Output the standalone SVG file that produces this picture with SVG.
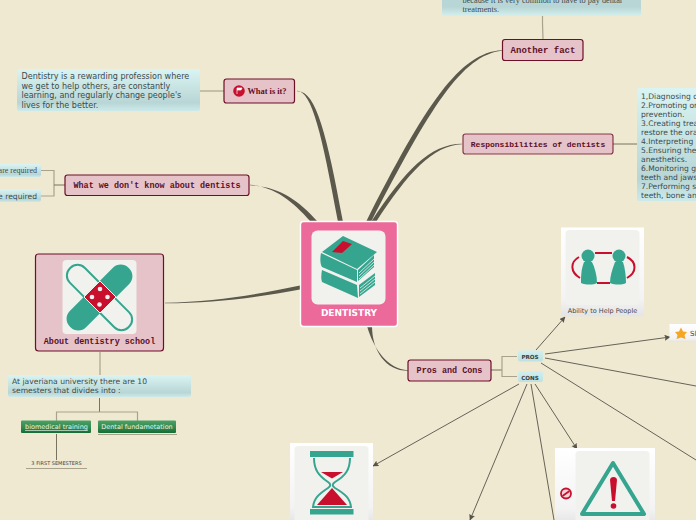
<svg xmlns="http://www.w3.org/2000/svg" width="696" height="520" viewBox="0 0 696 520">
<defs>
<linearGradient id="blue" x1="0" y1="0" x2="0" y2="1"><stop offset="0" stop-color="#d9f4f2"/><stop offset="0.8" stop-color="#b9d6d6"/><stop offset="1" stop-color="#cdeaea"/></linearGradient>
<linearGradient id="blue2" x1="0" y1="0" x2="0" y2="1"><stop offset="0" stop-color="#b8d6d6"/><stop offset="0.75" stop-color="#b9d6d6"/><stop offset="1" stop-color="#d3f0ee"/></linearGradient>
<linearGradient id="blue3" x1="0" y1="0" x2="0" y2="1"><stop offset="0" stop-color="#d2efee"/><stop offset="1" stop-color="#bfe0e0"/></linearGradient>
<linearGradient id="green" x1="0" y1="0" x2="0" y2="1"><stop offset="0" stop-color="#4d9f66"/><stop offset="0.6" stop-color="#2e8a4e"/><stop offset="1" stop-color="#176b35"/></linearGradient>
<linearGradient id="white" x1="0" y1="0" x2="0" y2="1"><stop offset="0" stop-color="#ffffff"/><stop offset="0.8" stop-color="#f3f3f3"/><stop offset="1" stop-color="#e4e4e4"/></linearGradient>
<marker id="arr" markerWidth="7" markerHeight="7" refX="5.5" refY="3" orient="auto" markerUnits="userSpaceOnUse"><path d="M0 0L6 3L0 6L1 3Z" fill="#55534a"/></marker>
</defs>
<style>
.bg{fill:#f0e9d2}
.main{fill:#e6c3c9;stroke:#6c0f27;stroke-width:1.2}
.mt{font-family:"Liberation Mono","DejaVu Sans Mono",monospace;font-weight:bold;font-size:8.45px;fill:#5c1027;text-anchor:middle}
.note{font-family:"DejaVu Sans",sans-serif;font-size:7.6px;fill:#3d4a4c}
.ser{font-family:"Liberation Serif",serif;font-size:8.3px;fill:#3d4a4c}
.wire{fill:none;stroke:#a8a28c;stroke-width:1.2}
.wired{fill:none;stroke:#77735f;stroke-width:1}
.br{fill:#5b594c}
.ln{fill:none;stroke:#55534a;stroke-width:0.9}
.teal{fill:#35a58f}
.red{fill:#c8102e}
.card{fill:#f1f2ee}
.tag{font-family:"DejaVu Sans",sans-serif;font-weight:bold;font-size:5.6px;fill:#2f4044;text-anchor:middle}
.gt{font-family:"DejaVu Sans",sans-serif;font-size:6.5px;fill:#eaf5ea;text-anchor:middle}
.pg{fill:none;stroke:#f1f2ee;stroke-width:0.8}
</style>
<rect class="bg" width="696" height="520"/>

<g id="connectors">
<path class="br" d="M297 90.700C312 91 322 135 338 222L343 222C327 135 316 90 297 91.300Z"/>
<path class="br" d="M502 50.200C460 52 425 105 366 222L371 222C430 108 462 55 502 50.800Z"/>
<path class="br" d="M462 143.700C430 144 405 170 371 222L376 222C409 172 432 146 462 144.300Z"/>
<path class="br" d="M250 184.700C278 187 296 205 313 224L317 221C299 201 280 187 250 185.300Z"/>
<path class="br" d="M165 302.700C215 302 260 294 300 285.500L300 289.500C260 297 215 303 165 303.300Z"/>
<path class="br" d="M367 326C374 350 388 369 408 370.200L408 370.800C386 371 372 351 372 326Z"/>
<path class="wire" d="M200 91H224"/>
<path class="wire" d="M41 170.500H54V196H41"/>
<path class="wired" d="M54 185H65"/>
<path class="wire" d="M542.500 16V23L543 39"/>
<path class="wired" d="M613 144H637"/>
<path class="wire" d="M100 352V375"/>
<path class="wired" d="M99.500 398V412"/>
<path class="wire" d="M56.500 421V412H137.500V421"/>
<path class="wired" d="M56.500 434V460"/>
<path class="wired" d="M491 370H502"/>
<path class="wire" d="M517 356.500H502V376.500H517"/>
<path class="ln" marker-end="url(#arr)" d="M536 350L565 317"/>
<path class="ln" marker-end="url(#arr)" d="M545 354L670 337"/>
<path class="ln" d="M545 358L696 386"/>
<path class="ln" d="M541 363L696 460"/>
<path class="ln" marker-end="url(#arr)" d="M519 384L373 466"/>
<path class="ln" marker-end="url(#arr)" d="M527 384L470 520"/>
<path class="ln" d="M531 384L554 520"/>
<path class="ln" marker-end="url(#arr)" d="M535 384L577 449"/>
</g>

<g id="central">
<rect x="300.500" y="221.500" width="97" height="105" rx="3" fill="#ec6a9a" stroke="#fff" stroke-width="1.400"/>
<rect class="card" x="311.500" y="230.500" width="74" height="74" rx="6"/>
<path class="teal" d="M322 252L343 236L377 252L357 269Z"/>
<path class="teal" d="M321 253C320 258 320 264 322 267L357 282L357 270Z"/>
<path class="teal" d="M358 270L374 255L374 267L358 281Z"/>
<path class="teal" d="M322 270C321 275 321 279 322 282L358 298L357 285Z"/>
<path class="teal" d="M359 285L375 273L375 285L359 297Z"/>
<path class="pg" d="M359 273L374 259M359 276L374 262M359 279L374 265M360 288L375 276M360 291L375 279M360 294L375 282"/>
<path class="red" d="M332 252L343 241L352 244L342 253Z"/>
<text x="349" y="316" font-family="DejaVu Sans,sans-serif" font-weight="bold" font-size="9px" fill="#fff" text-anchor="middle">DENTISTRY</text>
</g>

<g id="what-is-it">
<rect class="main" x="224" y="79" width="70.500" height="24" rx="2.500"/>
<circle cx="239" cy="91" r="5.800" class="red"/>
<path d="M237 88V94M237 88H242L241 90H237" fill="#fff" stroke="#fff" stroke-width="0.700"/>
<text x="267" y="94" font-family="Liberation Serif,serif" font-weight="bold" font-size="8.400px" fill="#5c1027" text-anchor="middle">What is it?</text>
</g>
<g id="what-is-it-note">
<rect x="17" y="69" width="183" height="42" rx="2" fill="url(#blue)"/>
<text class="note" style="font-size:8.05px"><tspan x="21.500" y="79">Dentistry is a rewarding profession where</tspan><tspan x="21.500" y="88.500">we get to help others, are constantly</tspan><tspan x="21.500" y="98">learning, and regularly change people's</tspan><tspan x="21.500" y="107.500">lives for the better.</tspan></text>
</g>

<g id="dont-know">
<rect class="main" x="65" y="175" width="184" height="20.500" rx="2.500"/>
<text class="mt" x="157" y="187.500">What we don't know about dentists</text>
</g>
<g id="dont-know-a">
<rect x="-10" y="164" width="51" height="13" rx="2" fill="url(#blue)"/>
<text x="37" y="173" class="ser" text-anchor="end" style="font-size:8px">are required</text>
</g>
<g id="dont-know-b">
<rect x="-10" y="189" width="51" height="13" rx="2" fill="url(#blue)"/>
<text x="37" y="198.500" class="note" text-anchor="end">e required</text>
</g>

<g id="fact-note">
<rect x="442" y="-20" width="199" height="36" rx="2" fill="url(#blue2)"/>
<text class="ser"><tspan x="462.500" y="3">because it is very common to have to pay dental</tspan><tspan x="462.500" y="12">treatments.</tspan></text>
</g>
<g id="another-fact">
<rect class="main" x="502.500" y="39.500" width="80.500" height="21" rx="2.500"/>
<text class="mt" x="543" y="53" style="font-size:9px">Another fact</text>
</g>

<g id="responsibilities">
<rect class="main" x="463" y="134" width="150" height="20" rx="2.500" stroke-opacity="0.800"/>
<text class="mt" x="538" y="146.500" style="font-size:8px">Responsibilities of dentists</text>
</g>
<g id="responsibilities-note">
<rect x="637" y="88" width="70" height="113" rx="2" fill="url(#blue)"/>
<text class="note"><tspan x="641" y="98.500">1,Diagnosing o</tspan><tspan x="641" y="107.500">2.Promoting or</tspan><tspan x="641" y="116.500">prevention.</tspan><tspan x="641" y="125.500">3.Creating trea</tspan><tspan x="641" y="134.500">restore the ora</tspan><tspan x="641" y="143.500">4.Interpreting</tspan><tspan x="641" y="152.500">5.Ensuring the</tspan><tspan x="641" y="161.500">anesthetics.</tspan><tspan x="641" y="170.500">6.Monitoring g</tspan><tspan x="641" y="179.500">teeth and jaws</tspan><tspan x="641" y="188.500">7.Performing s</tspan><tspan x="641" y="197.500">teeth, bone an</tspan></text>
</g>

<g id="school">
<rect class="main" x="35.500" y="254" width="128" height="97" rx="3"/>
<rect class="card" x="62.500" y="260" width="74" height="74" rx="4"/>
<rect x="58" y="287" width="83" height="21" rx="10" fill="none" stroke="#35a58f" stroke-width="2" transform="rotate(45 99.500 297.500)"/>
<rect x="58" y="286" width="83" height="23" rx="11" class="teal" transform="rotate(-45 99.500 297.500)"/>
<path class="red" stroke="#f1f2ee" d="M84 297L100 281L116 297L100 313Z"/>
<circle cx="100" cy="289" r="2.300" fill="#f1f2ee"/><circle cx="92" cy="297" r="2.300" fill="#f1f2ee"/><circle cx="107.500" cy="297" r="2.300" fill="#f1f2ee"/><circle cx="99.500" cy="304.500" r="2.300" fill="#f1f2ee"/>
<text class="mt" x="99.500" y="343.500">About dentistry school</text>
</g>
<g id="school-note">
<rect x="8" y="375" width="183" height="22" rx="2" fill="url(#blue)"/>
<text class="note"><tspan x="12" y="384">At javeriana university there are 10</tspan><tspan x="12" y="393">semesters that divides into :</tspan></text>
</g>
<g id="biomedical">
<rect x="21" y="420.500" width="70" height="12.500" rx="1" fill="url(#green)"/>
<text class="gt" x="56.500" y="429" text-decoration="underline">biomedical training</text>
</g>
<g id="dental-fund">
<rect x="98" y="420.500" width="78" height="12.500" rx="1" fill="url(#green)"/>
<path d="M98 434.500H177" stroke="#a8a28c" fill="none"/>
<text class="gt" x="137" y="429">Dental fundametation</text>
</g>
<g id="first-semesters">
<text x="56.500" y="464.500" font-family="DejaVu Sans,sans-serif" font-size="5px" fill="#44423a" text-anchor="middle">3 FIRST SEMESTERS</text>
<path d="M26 468.500H87" stroke="#a8a28c" fill="none"/>
</g>

<g id="pros-cons">
<rect class="main" x="408" y="360" width="83" height="21" rx="2.500"/>
<text class="mt" x="449.500" y="373">Pros and Cons</text>
</g>
<g id="pros">
<rect x="518" y="350.500" width="25" height="11" rx="2" fill="url(#blue3)"/>
<text class="tag" x="530" y="359">PROS</text>
</g>
<g id="cons">
<rect x="518" y="371" width="25" height="11" rx="2" fill="url(#blue3)"/>
<text class="tag" x="530" y="379.500">CONS</text>
</g>

<g id="help-people">
<rect x="561" y="227.500" width="83" height="89" fill="url(#white)"/>
<rect class="card" x="565.500" y="230" width="74" height="75" rx="4"/>
<g fill="none" stroke="#c8102e" stroke-width="2">
<path d="M595 253H612"/><path d="M597 283H610"/><path d="M579 257C570 262 570 272 580 278"/><path d="M627 257C637 262 637 272 627 278"/>
</g>
<circle class="teal" cx="588" cy="256" r="6.500"/><circle class="teal" cx="619" cy="256" r="6.500"/>
<path class="teal" d="M584 262H592C595 268 597 276 597 283C593 285 586 285 581 283C581 276 581 270 584 262Z"/>
<path class="teal" d="M615 262H623C625 268 626 276 626 283C622 285 615 285 610 283C610 276 612 270 615 262Z"/>
<text x="602.500" y="313" font-family="DejaVu Sans,sans-serif" font-size="6.500px" fill="#444" text-anchor="middle">Ability to Help People</text>
</g>

<g id="star-item">
<rect x="669.500" y="324" width="30" height="18" fill="url(#white)"/>
<path fill="#f5a623" d="M681 327.500L683 331.500L687 332L684.500 335L685.500 339L681 337.500L676.500 339L677.500 335L675 332L679 331.500Z"/>
<text x="690" y="336" font-family="DejaVu Sans,sans-serif" font-size="7px" fill="#3e3e3e">Sl</text>
</g>

<g id="hourglass">
<rect x="290" y="443" width="83" height="80" fill="url(#white)"/>
<rect class="card" x="294.500" y="446" width="74" height="78" rx="4"/>
<rect class="teal" x="310" y="451" width="43.500" height="6"/>
<rect class="teal" x="310" y="509" width="43.500" height="5.500"/>
<path d="M314 458C314 470 319 476 328 482C331 484 331 486 328 488C319 494 314 498 313 507H351C350 498 345 494 335 488C332 486 332 484 335 482C345 476 350 470 350 458" fill="none" stroke="#35a58f" stroke-width="2"/>
<path class="red" d="M321 472H343L332 478.500Z"/>
<path class="red" d="M317 505L332 488L347 505Z"/>
</g>

<g id="warning">
<rect x="555" y="448" width="100" height="76" fill="url(#white)"/>
<rect class="card" x="575.500" y="451" width="74" height="75" rx="4"/>
<circle cx="566" cy="493.500" r="5" fill="#f3d6da" stroke="#c8102e" stroke-width="1.800"/>
<path d="M562.500 496L569.500 491" stroke="#c8102e" stroke-width="1.800"/>
<path d="M613 463L644 514H582Z" fill="none" stroke="#35a58f" stroke-width="4" stroke-linejoin="round"/>
<path class="red" d="M610 480C610 476 617 476 617 480L615 501H612Z"/>
<circle class="red" cx="613.500" cy="506" r="2.800"/>
</g>
</svg>
